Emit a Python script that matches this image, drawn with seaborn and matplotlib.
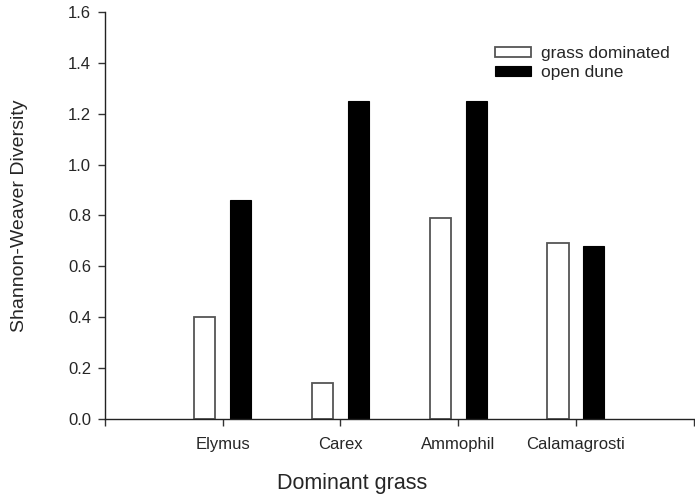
import seaborn as sns
import matplotlib.pyplot as plt
import pandas as pd

# Data
grasses = ['Elymus', 'Carex', 'Ammophil', 'Calamagrosti']
grass_dominated = [0.40, 0.14, 0.79, 0.69]
open_dune = [0.86, 1.25, 1.25, 0.68]
series = ['grass dominated', 'open dune']

df = pd.DataFrame({
    'grass': grasses * 2,
    'diversity': grass_dominated + open_dune,
    'site': [series[0]] * len(grasses) + [series[1]] * len(grasses),
})

sns.set_style('ticks')
plt.rcParams['font.family'] = ['Liberation Sans', 'DejaVu Sans']

fig = plt.figure(figsize=(6.95, 4.98), dpi=100)
ax = fig.add_axes([0.151, 0.159, 0.847, 0.817])

sns.barplot(data=df, x='grass', y='diversity', hue='site', order=grasses,
            hue_order=series, palette=['white', 'black'], width=0.61, gap=0.41,
            ax=ax, saturation=1)

# Edge colours: grey outline on white bars, black on black bars
for patch in ax.patches:
    fc = patch.get_facecolor()
    if fc[0] > 0.5:
        patch.set_edgecolor('#555555')
        patch.set_linewidth(1.3)
    else:
        patch.set_edgecolor('black')
        patch.set_linewidth(0.8)

ax.set_xlim(-1, 4)
ax.set_xticks(range(-1, 5))
ax.set_xticklabels([''] + grasses + [''], fontsize=12)
ax.set_ylim(0, 1.6)
ax.set_yticks([0, 0.2, 0.4, 0.6, 0.8, 1.0, 1.2, 1.4, 1.6])
ax.set_yticklabels(['%.1f' % v for v in ax.get_yticks()], fontsize=12)
ax.tick_params(direction='out', length=5, width=1, color='#333333', pad=5)
ax.tick_params(axis='x', pad=8)

ax.set_xlabel('Dominant grass', fontsize=15.5)
ax.xaxis.set_label_coords(0.42, -0.133)
ax.set_ylabel('Shannon-Weaver Diversity', fontsize=14, labelpad=29)

for side in ['top', 'right']:
    ax.spines[side].set_visible(False)
for side in ['left', 'bottom']:
    ax.spines[side].set_color('#222222')
    ax.spines[side].set_linewidth(1)

handles, labels = ax.get_legend_handles_labels()
ax.legend(handles, labels, loc='upper left', bbox_to_anchor=(0.65, 0.933),
          frameon=False, fontsize=12.5, handlelength=2.1, handleheight=0.5,
          handletextpad=0.6, labelspacing=0.25, borderaxespad=0)

fig.savefig('out.png', dpi=100)
